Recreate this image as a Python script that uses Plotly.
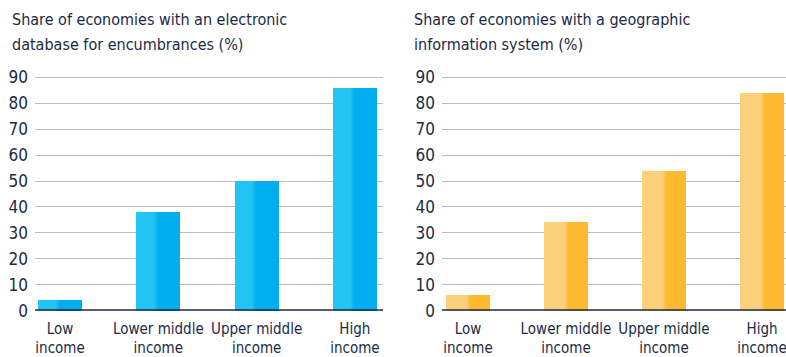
import plotly.graph_objects as go

categories = ["Low<br>income", "Lower middle<br>income", "Upper middle<br>income", "High<br>income"]
encumbrance_db = [4, 38, 50, 86]
gis_system = [6, 34, 54, 84]
y_ticks = [0, 10, 20, 30, 40, 50, 60, 70, 80, 90]
title_left = ["Share of economies with an electronic", "database for encumbrances (%)"]
title_right = ["Share of economies with a geographic", "information system (%)"]

NAVY = "#1b2a45"
GRID = "#b9bcc6"
FONT = "DejaVu Sans Condensed, Roboto, sans-serif"

W, H = 786, 357
BAR_W = 0.449  # in category units


def hex_to_rgb(h):
    h = h.lstrip("#")
    return tuple(int(h[i:i + 2], 16) for i in (0, 2, 4))


def mix(c1, c2, t):
    a, b = hex_to_rgb(c1), hex_to_rgb(c2)
    return "rgb(%d,%d,%d)" % tuple(round(a[i] + (b[i] - a[i]) * t) for i in range(3))


fig = go.Figure()

panels = [
    dict(vals=encumbrance_db, xa="x", ya="y", light="#22c4f3", dark="#00aeef", t0=17, t1=22),
    dict(vals=gis_system, xa="x2", ya="y2", light="#fdd17c", dark="#fdb92f", t0=20, t1=25),
]

px_per_unit = 98.0
for p in panels:
    xs = list(range(len(categories)))
    fig.add_trace(go.Bar(x=xs, y=p["vals"], xaxis=p["xa"], yaxis=p["ya"], width=BAR_W,
                         offset=-BAR_W / 2, marker=dict(color=p["light"], line=dict(width=0)),
                         hoverinfo="skip", showlegend=False))
    n = 6
    for k in range(n):
        a = p["t0"] + (p["t1"] - p["t0"]) * k / n
        t = (k + 0.5) / n
        off = -BAR_W / 2 + a / px_per_unit
        fig.add_trace(go.Bar(x=xs, y=p["vals"], xaxis=p["xa"], yaxis=p["ya"],
                             width=BAR_W - a / px_per_unit, offset=off,
                             marker=dict(color=mix(p["light"], p["dark"], t), line=dict(width=0)),
                             hoverinfo="skip", showlegend=False))
    off = -BAR_W / 2 + p["t1"] / px_per_unit
    fig.add_trace(go.Bar(x=xs, y=p["vals"], xaxis=p["xa"], yaxis=p["ya"],
                         width=BAR_W - p["t1"] / px_per_unit, offset=off,
                         marker=dict(color=p["dark"], line=dict(width=0)),
                         hoverinfo="skip", showlegend=False))

y_dom = [46.3 / H, (357 - (310.7 - 92 * 2.593)) / H]

common_y = dict(range=[0, 92], tickvals=y_ticks, showgrid=True, gridcolor=GRID, gridwidth=1,
                zeroline=False, showline=False, ticks="", ticklabelstandoff=6, automargin=False,
                tickfont=dict(family=FONT, size=17, color=NAVY), domain=y_dom)
common_x = dict(tickmode="array", tickvals=list(range(len(categories))), ticktext=categories,
                showgrid=False, zeroline=False, showline=False, ticks="", tickangle=0,
                automargin=False, ticklabeloverflow="allow",
                tickfont=dict(family=FONT, size=15, color=NAVY), ticklabelstandoff=7)

annotations = []
for x0, lines in ((10, title_left), (412, title_right)):
    for i, line in enumerate(lines):
        annotations.append(dict(text=line, xref="paper", yref="paper", x=x0 / W,
                                y=1 - (19 + 25 * i) / H, xanchor="left", yanchor="middle",
                                align="left", showarrow=False,
                                font=dict(family=FONT, size=16, color=NAVY)))

fig.update_layout(
    width=W, height=H, margin=dict(l=0, r=0, t=0, b=0, autoexpand=False),
    paper_bgcolor="white", plot_bgcolor="white", barmode="overlay", bargap=0,
    xaxis=dict(common_x, domain=[35 / W, 383 / W], range=[-0.255, 3.286], anchor="y"),
    yaxis=dict(common_y, anchor="x"),
    xaxis2=dict(common_x, domain=[442 / W, 1.0], range=[-0.265, 3.245], anchor="y2"),
    yaxis2=dict(common_y, anchor="x2"),
    shapes=[
        dict(type="line", xref="x domain", yref="y", x0=0, x1=1, y0=0, y1=0,
             line=dict(color=NAVY, width=3), layer="above"),
        dict(type="line", xref="x2 domain", yref="y2", x0=0, x1=1, y0=0, y1=0,
             line=dict(color=NAVY, width=3), layer="above"),
    ],
    annotations=annotations,
)

fig.write_html("out.html", config={"displayModeBar": False},
               post_script="document.body.style.margin='0px';")
